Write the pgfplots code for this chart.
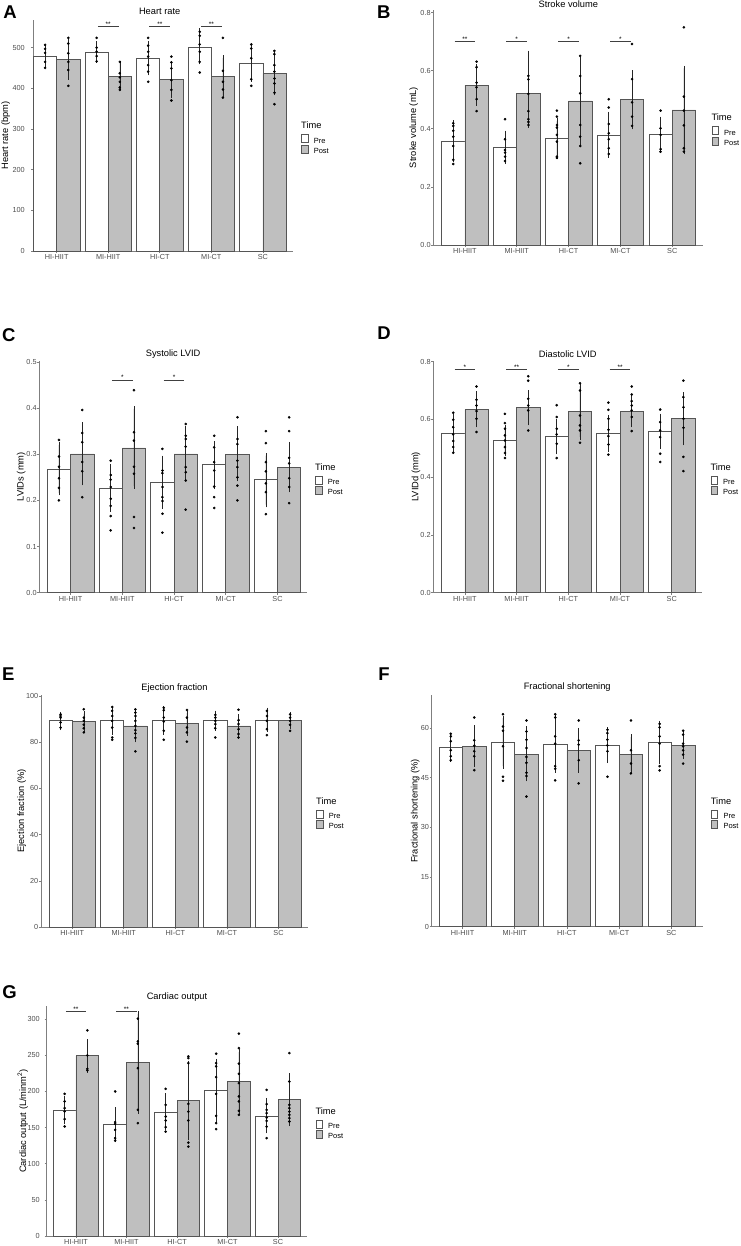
\documentclass[border=0pt]{standalone}
\usepackage{fontspec}
\setmainfont{Liberation Sans}
\usepackage{pgfplots}
\usepackage{pgfplotstable}
\pgfplotsset{compat=1.18}
\definecolor{tickgray}{HTML}{4D4D4D}
\definecolor{axisgray}{HTML}{7F7F7F}
\definecolor{bargray}{HTML}{555555}
\definecolor{postfill}{HTML}{BFBFBF}

\pgfplotsset{
 panel/.style={
  scale only axis, anchor=south west, clip=false,
  axis x line*=bottom, axis y line*=left,
  axis line style={draw=axisgray, line width=0.8pt, -},
  xtick={0,1,2,3,4}, xticklabels={HI-HIIT,MI-HIIT,HI-CT,MI-CT,SC},
  ymin=0,
  tick align=outside, major tick length=2pt,
  tick style={draw=axisgray, line width=0.6pt},
  /pgf/number format/assume math mode=true,
  tick label style={font=\fontsize{7.3}{8}\selectfont, text=tickgray},
  xticklabel style={inner ysep=1.5pt},
  yticklabel style={inner xsep=0.5pt},
  title style={font=\fontsize{9.3}{11}\selectfont, at={(0.5,1)}, anchor=center},
  ylabel style={font=\fontsize{9.3}{11}\selectfont, anchor=center},
  legend image code/.code={\draw[##1] (0pt,-1.3pt) rectangle (6.3pt,6.7pt);},
  legend style={at={(axis description cs:1,0.506)}, anchor=north west, xshift=8pt,
    draw=none, fill=none, inner sep=0pt, row sep=0pt,
    font=\fontsize{7.5}{8}\selectfont, nodes={inner sep=0pt},
    /tikz/every odd column/.append style={column sep=5.7pt}},
  legend cell align=left,
 },
 prebar/.style={ybar, bar width=0.45, bar shift=0pt, fill=white, draw=bargray,
   line width=0.7pt, forget plot,
   /pgfplots/error bars/y dir=both, /pgfplots/error bars/y explicit,
   /pgfplots/error bars/error bar style={black!85, line width=0.55pt},
   /pgfplots/error bars/error mark options={black!85, mark size=2.6pt, line width=0.55pt}},
 postbar/.style={prebar, fill=postfill},
 pts/.style={only marks, mark=*, mark size=1.1pt, black, forget plot},
 sig/.style={draw=black!75, line width=0.6pt, forget plot},
}

\newcommand{\PT}[2]{\addplot[pts] table[row sep=\\, header=false, x expr=#1, y index=0] {#2};}
\newcommand{\BARS}[1]{%
 \addplot[prebar] table[x expr=\thisrow{g}-0.225, y=pm, y error plus expr=\thisrow{phi}-\thisrow{pm}, y error minus expr=\thisrow{pm}-\thisrow{plo}] {#1};
 \addplot[postbar] table[x expr=\thisrow{g}+0.225, y=qm, y error plus expr=\thisrow{qhi}-\thisrow{qm}, y error minus expr=\thisrow{qm}-\thisrow{qlo}] {#1};
}
\newcommand{\SIG}[5]{\addplot[sig] coordinates {(#1,#4) (#2,#4)};
 \node[font=\fontsize{6.5}{7}\selectfont, inner sep=0pt, anchor=base] at (axis cs:#3,#4) {#5};}
\newcommand{\LEG}{%
 \addlegendimage{fill=white, draw=bargray, line width=0.6pt}\addlegendentry{Pre}
 \addlegendimage{fill=postfill, draw=bargray, line width=0.6pt}\addlegendentry{Post}
 \node[anchor=west, inner sep=0pt, xshift=8pt, yshift=8.5pt, font=\fontsize{9.3}{11}\selectfont] at (axis description cs:1,0.506) {Time};
}

\pgfplotstableread{
g pm phi plo qm qhi qlo
0 477.8 500 456.5 470.4 514 427
1 489 509 469.6 430 461 401.5
2 473.7 509 438 422 461 381.8
3 500 541 465 428.6 475 382
4 461 502 422 436.8 483.6 389
}\sumA
\pgfplotstableread{
g pm phi plo qm qhi qlo
0 0.356 0.421 0.295 0.550 0.614 0.488
1 0.335 0.3845 0.287 0.522 0.660 0.413
2 0.367 0.427 0.304 0.496 0.639 0.352
3 0.379 0.450 0.309 0.500 0.593 0.407
4 0.382 0.433 0.329 0.465 0.608 0.321
}\sumB
\pgfplotstableread{
g pm phi plo qm qhi qlo
0 0.268 0.320 0.2165 0.3007 0.364 0.238
1 0.226 0.273 0.1806 0.3137 0.398 0.231
2 0.2388 0.2914 0.187 0.3007 0.3547 0.248
3 0.277 0.322 0.230 0.300 0.3547 0.2468
4 0.2446 0.297 0.1906 0.272 0.321 0.223
}\sumC
\pgfplotstableread{
g pm phi plo qm qhi qlo
0 0.5525 0.6078 0.496 0.634 0.688 0.581
1 0.526 0.573 0.481 0.640 0.692 0.588
2 0.540 0.5917 0.488 0.626 0.715 0.539
3 0.5514 0.6055 0.497 0.626 0.6745 0.581
4 0.5594 0.611 0.5065 0.602 0.685 0.519
}\sumD
\pgfplotstableread{
g pm phi plo qm qhi qlo
0 89.6 92.1 86.4 89.0 92.4 85.7
1 89.3 94.3 84.3 87.1 93.3 81.1
2 89.6 94.7 84.3 88.3 92.6 84.0
3 89.3 92.6 86.1 87.1 91.1 83.3
4 89.7 93.9 85.6 89.6 92.1 87.0
}\sumE
\pgfplotstableread{
g pm phi plo qm qhi qlo
0 54.3 57.7 50.5 54.5 60.0 49.1
1 55.7 63.0 48.5 52.1 59.7 44.7
2 55.2 63.2 47.3 53.3 59.3 47.3
3 54.8 59.5 50.2 52.1 57.3 47.0
4 55.7 61.5 50.0 54.8 58.5 51.3
}\sumF
\pgfplotstableread{
g pm phi plo qm qhi qlo
0 174.0 190.6 157.8 249.2 268.2 229.4
1 153.7 174.5 132.9 239.5 306.9 172.6
2 171.2 193.8 150.0 187.3 239.0 136.1
3 200.7 241.4 159.2 213.2 254.3 170.8
4 166.1 187.3 145.4 188.3 221.5 155.5
}\sumG

\begin{document}
\begin{tikzpicture}
\path[use as bounding box] (0pt,0pt) rectangle (740pt,1246pt);

% ---------- A
\begin{axis}[panel, at={(33pt,995pt)}, width=260pt, height=231pt,
  xmin=-0.46, xmax=4.585, ymax=568, ytick={0,100,200,300,400,500},
  title={Heart rate}, title style={xshift=-3.3pt, yshift=2.3pt},
  ylabel={Heart rate (bpm)}, ylabel style={at={(axis description cs:-0.1046,0.5)}},
  yticklabel style={inner xsep=6pt}]
\BARS{\sumA}
\PT{-0.225}{507\\497\\487\\465\\450\\}
\PT{0.225}{524\\510\\486\\465\\445\\406\\}
\PT{0.775}{524\\500\\490\\479\\466\\}
\PT{1.225}{465\\437\\427\\416\\402\\396\\}
\PT{1.775}{524\\505\\490\\478\\457\\441\\416\\}
\PT{2.225}{478\\464\\449\\420\\396\\370\\}
\PT{2.775}{539\\529\\508\\490\\465\\439\\}
\PT{3.225}{524\\443\\416\\397\\377\\}
\PT{3.775}{508\\498\\474\\422\\406\\}
\PT{4.225}{492\\484\\457\\441\\424\\412\\389\\361\\}
\SIG{0.8}{1.2}{1}{551.7}{**}
\SIG{1.8}{2.2}{2}{551.7}{**}
\SIG{2.8}{3.2}{3}{551.7}{**}
\LEG
\end{axis}

% ---------- B
\begin{axis}[panel, at={(433.3pt,1001pt)}, width=270pt, height=235pt,
  xmin=-0.61, xmax=4.6, ymax=0.809, ytick={0,0.2,0.4,0.6,0.8},
  yticklabel style={/pgf/number format/fixed, /pgf/number format/fixed zerofill, /pgf/number format/precision=1},
  title={Stroke volume}, title style={yshift=-0.5pt},
  ylabel={Stroke volume (mL)}, ylabel style={at={(axis description cs:-0.0726,0.5)}}]
\BARS{\sumB}
\PT{-0.225}{0.419\\0.41\\0.393\\0.373\\0.341\\0.293\\0.279\\}
\PT{0.225}{0.631\\0.612\\0.559\\0.543\\0.502\\0.461\\}
\PT{0.775}{0.433\\0.364\\0.327\\0.318\\0.304\\0.289\\}
\PT{1.225}{0.582\\0.570\\0.520\\0.461\\0.433\\0.4235\\0.413\\}
\PT{1.775}{0.4626\\0.442\\0.413\\0.404\\0.379\\0.356\\0.304\\0.300\\}
\PT{2.225}{0.651\\0.582\\0.522\\0.413\\0.373\\0.341\\0.281\\}
\PT{2.775}{0.5016\\0.473\\0.4166\\0.3845\\0.364\\0.333\\0.313\\}
\PT{3.225}{0.692\\0.571\\0.491\\0.442\\0.41\\}
\PT{3.775}{0.4626\\0.4017\\0.379\\0.33\\0.321\\}
\PT{4.225}{0.7495\\0.511\\0.4626\\0.412\\0.333\\0.321\\}
\SIG{-0.2}{0.2}{0}{0.700}{**}
\SIG{0.8}{1.2}{1}{0.700}{*}
\SIG{1.8}{2.2}{2}{0.700}{*}
\SIG{2.8}{3.2}{3}{0.700}{*}
\LEG
\end{axis}

% ---------- C
\begin{axis}[panel, at={(39.3pt,653.3pt)}, width=267.7pt, height=231.7pt,
  xmin=-0.605, xmax=4.57, ymax=0.502, ytick={0,0.1,0.2,0.3,0.4,0.5},
  yticklabel style={/pgf/number format/fixed, /pgf/number format/fixed zerofill, /pgf/number format/precision=1},
  title={Systolic LVID}, title style={yshift=0.7pt},
  ylabel={LVIDs (mm)}, ylabel style={at={(axis description cs:-0.0672,0.5)}}]
\BARS{\sumC}
\PT{-0.225}{0.331\\0.295\\0.273\\0.248\\0.227\\0.2\\}
\PT{0.225}{0.396\\0.346\\0.326\\0.283\\0.263\\0.207\\}
\PT{0.775}{0.286\\0.255\\0.245\\0.229\\0.2036\\0.188\\0.166\\0.135\\}
\PT{1.225}{0.4388\\0.3475\\0.3295\\0.273\\0.2576\\0.164\\0.14\\}
\PT{1.775}{0.3115\\0.2647\\0.259\\0.229\\0.207\\0.1986\\0.171\\0.13\\}
\PT{2.225}{0.3655\\0.34\\0.333\\0.3165\\0.272\\0.261\\0.243\\0.18\\}
\PT{2.775}{0.34\\0.315\\0.283\\0.2647\\0.23\\0.207\\0.1835\\}
\PT{3.225}{0.38\\0.333\\0.322\\0.286\\0.272\\0.25\\0.232\\0.2\\}
\PT{3.775}{0.35\\0.324\\0.283\\0.263\\0.237\\0.218\\0.17\\}
\PT{4.225}{0.38\\0.35\\0.292\\0.28\\0.248\\0.229\\0.194\\}
\SIG{0.8}{1.2}{1}{0.461}{*}
\SIG{1.8}{2.2}{2}{0.461}{*}
\LEG
\end{axis}

% ---------- D
\begin{axis}[panel, at={(433.3pt,653.3pt)}, width=269pt, height=231.7pt,
  xmin=-0.61, xmax=4.59, ymax=0.802, ytick={0,0.2,0.4,0.6,0.8},
  yticklabel style={/pgf/number format/fixed, /pgf/number format/fixed zerofill, /pgf/number format/precision=1},
  title={Diastolic LVID}, title style={yshift=0.7pt},
  ylabel={LVIDd (mm)}, ylabel style={at={(axis description cs:-0.0643,0.5)}}]
\BARS{\sumD}
\PT{-0.225}{0.6227\\0.5986\\0.573\\0.548\\0.525\\0.504\\0.4846\\}
\PT{0.225}{0.7137\\0.6676\\0.648\\0.6285\\0.602\\0.556\\}
\PT{0.775}{0.619\\0.587\\0.5675\\0.5445\\0.527\\0.504\\0.4835\\0.466\\}
\PT{1.225}{0.749\\0.734\\0.671\\0.648\\0.631\\0.5617\\}
\PT{1.775}{0.649\\0.608\\0.5675\\0.548\\0.5157\\0.466\\}
\PT{2.225}{0.725\\0.7\\0.6135\\0.579\\0.5617\\0.519\\}
\PT{2.775}{0.658\\0.633\\0.602\\0.564\\0.542\\0.513\\0.4777\\}
\PT{3.225}{0.7137\\0.686\\0.663\\0.648\\0.631\\0.608\\0.5594\\}
\PT{3.775}{0.634\\0.5905\\0.5617\\0.5387\\0.481\\0.4524\\}
\PT{4.225}{0.734\\0.677\\0.642\\0.602\\0.571\\0.47\\0.421\\}
\SIG{-0.2}{0.2}{0}{0.7724}{*}
\SIG{0.8}{1.2}{1}{0.7724}{**}
\SIG{1.8}{2.2}{2}{0.7724}{*}
\SIG{2.8}{3.2}{3}{0.7724}{**}
\LEG
\end{axis}

% ---------- E
\begin{axis}[panel, at={(41pt,319pt)}, width=267pt, height=232pt,
  xmin=-0.605, xmax=4.572, ymax=100.5, ytick={0,20,40,60,80,100},
  title={Ejection fraction}, title style={yshift=1.3pt},
  ylabel={Ejection fraction (\%)}, ylabel style={at={(axis description cs:-0.0723,0.5)}}]
\BARS{\sumE}
\PT{-0.225}{92.1\\91.4\\90.7\\88.6\\86.4\\}
\PT{0.225}{94.3\\90.7\\89.3\\87.6\\86.1\\84.3\\}
\PT{0.775}{95.3\\93.6\\91.4\\89.3\\86.4\\82.1\\81.1\\}
\PT{1.225}{94.3\\92.9\\91.4\\89.3\\87.1\\85.3\\83.9\\81.9\\76.1\\}
\PT{1.775}{95\\93.9\\90.7\\89\\85\\81.1\\}
\PT{2.225}{94\\90.7\\86.4\\84.3\\80.3\\}
\PT{2.775}{91.9\\90.7\\89.3\\87.9\\86.1\\82.1\\}
\PT{3.225}{94.1\\89.6\\87.9\\85.7\\83.6\\82.1\\}
\PT{3.775}{93.6\\91.4\\89.3\\85.7\\83.1\\}
\PT{4.225}{92.1\\90.7\\89.3\\87.6\\85\\}
\LEG
\end{axis}

% ---------- F
\begin{axis}[panel, at={(431.7pt,319.3pt)}, width=271pt, height=231.7pt,
  xmin=-0.59, xmax=4.6, ymax=70, ytick={0,15,30,45,60},
  title={Fractional shortening}, title style={yshift=2.3pt},
  ylabel={Fractional shortening (\%)}, ylabel style={at={(axis description cs:-0.0605,0.5)}}]
\BARS{\sumF}
\PT{-0.225}{58.3\\57.5\\56\\53.3\\51.5\\50.3\\}
\PT{0.225}{63.2\\56.3\\54.7\\53\\51.5\\47.3\\}
\PT{0.775}{64.2\\60.5\\59.2\\54.5\\45.3\\44.1\\}
\PT{1.225}{62.3\\59\\56.5\\54\\51.3\\49.5\\46.5\\45.5\\39.3\\}
\PT{1.775}{64.2\\63.2\\57.5\\55.3\\48.5\\47.7\\44.2\\}
\PT{2.225}{62.3\\56.3\\55\\50.3\\43.3\\}
\PT{2.775}{59.5\\58.5\\56.5\\54.8\\53\\45.3\\}
\PT{3.225}{62.3\\53.3\\49.3\\46.3\\}
\PT{3.775}{61.3\\60.2\\57.5\\55.3\\48.5\\47.2\\}
\PT{4.225}{59.2\\58\\55.3\\54.5\\53.3\\52\\49.3\\}
\LEG
\end{axis}

% ---------- G
\begin{axis}[panel, at={(46.7pt,10pt)}, width=260.6pt, height=230pt,
  xmin=-0.58, xmax=4.58, ymax=318, ytick={0,50,100,150,200,250,300},
  title={Cardiac output}, title style={yshift=3.3pt},
  ylabel={Cardiac output (L/minm\textsuperscript{2})}, ylabel style={at={(axis description cs:-0.0917,0.5)}},
  yticklabel style={inner xsep=4.7pt}]
\BARS{\sumG}
\PT{-0.225}{196.6\\186\\176.8\\172.2\\161.5\\151.4\\}
\PT{0.225}{284.3\\249.7\\231.2\\229\\}
\PT{0.775}{199.8\\157.4\\155\\146.8\\135.2\\132\\}
\PT{1.225}{300.5\\269\\265.8\\232\\174.5\\156\\}
\PT{1.775}{203.5\\181.4\\165.2\\159.7\\150.4\\144.4\\}
\PT{2.225}{248.3\\246\\239\\182.7\\172\\159.7\\129.2\\123.6\\}
\PT{2.775}{252\\239\\234.5\\219.7\\196.6\\166\\156\\147.7\\}
\PT{3.225}{279.7\\259.8\\238.2\\224.3\\211.4\\192.9\\186\\173\\167.5\\}
\PT{3.775}{202\\182.3\\174.4\\169.9\\163.8\\159.2\\151.3\\135.3\\}
\PT{4.225}{253\\213.6\\181.4\\176.7\\172\\167.5\\163\\158.3\\}
\SIG{-0.2}{0.2}{0}{310.6}{**}
\SIG{0.8}{1.2}{1}{310.6}{**}
\LEG
\end{axis}

% panel letters
\begin{scope}[every node/.style={font=\fontsize{18.5}{20}\selectfont\bfseries, inner sep=0pt}]
\node at (10pt,1234.3pt) {A};
\node at (383.7pt,1234.3pt) {B};
\node at (8.8pt,911pt) {C};
\node at (384pt,912.7pt) {D};
\node at (8.3pt,572pt) {E};
\node at (384pt,572pt) {F};
\node at (9.5pt,253.5pt) {G};
\end{scope}
\end{tikzpicture}
\end{document}
